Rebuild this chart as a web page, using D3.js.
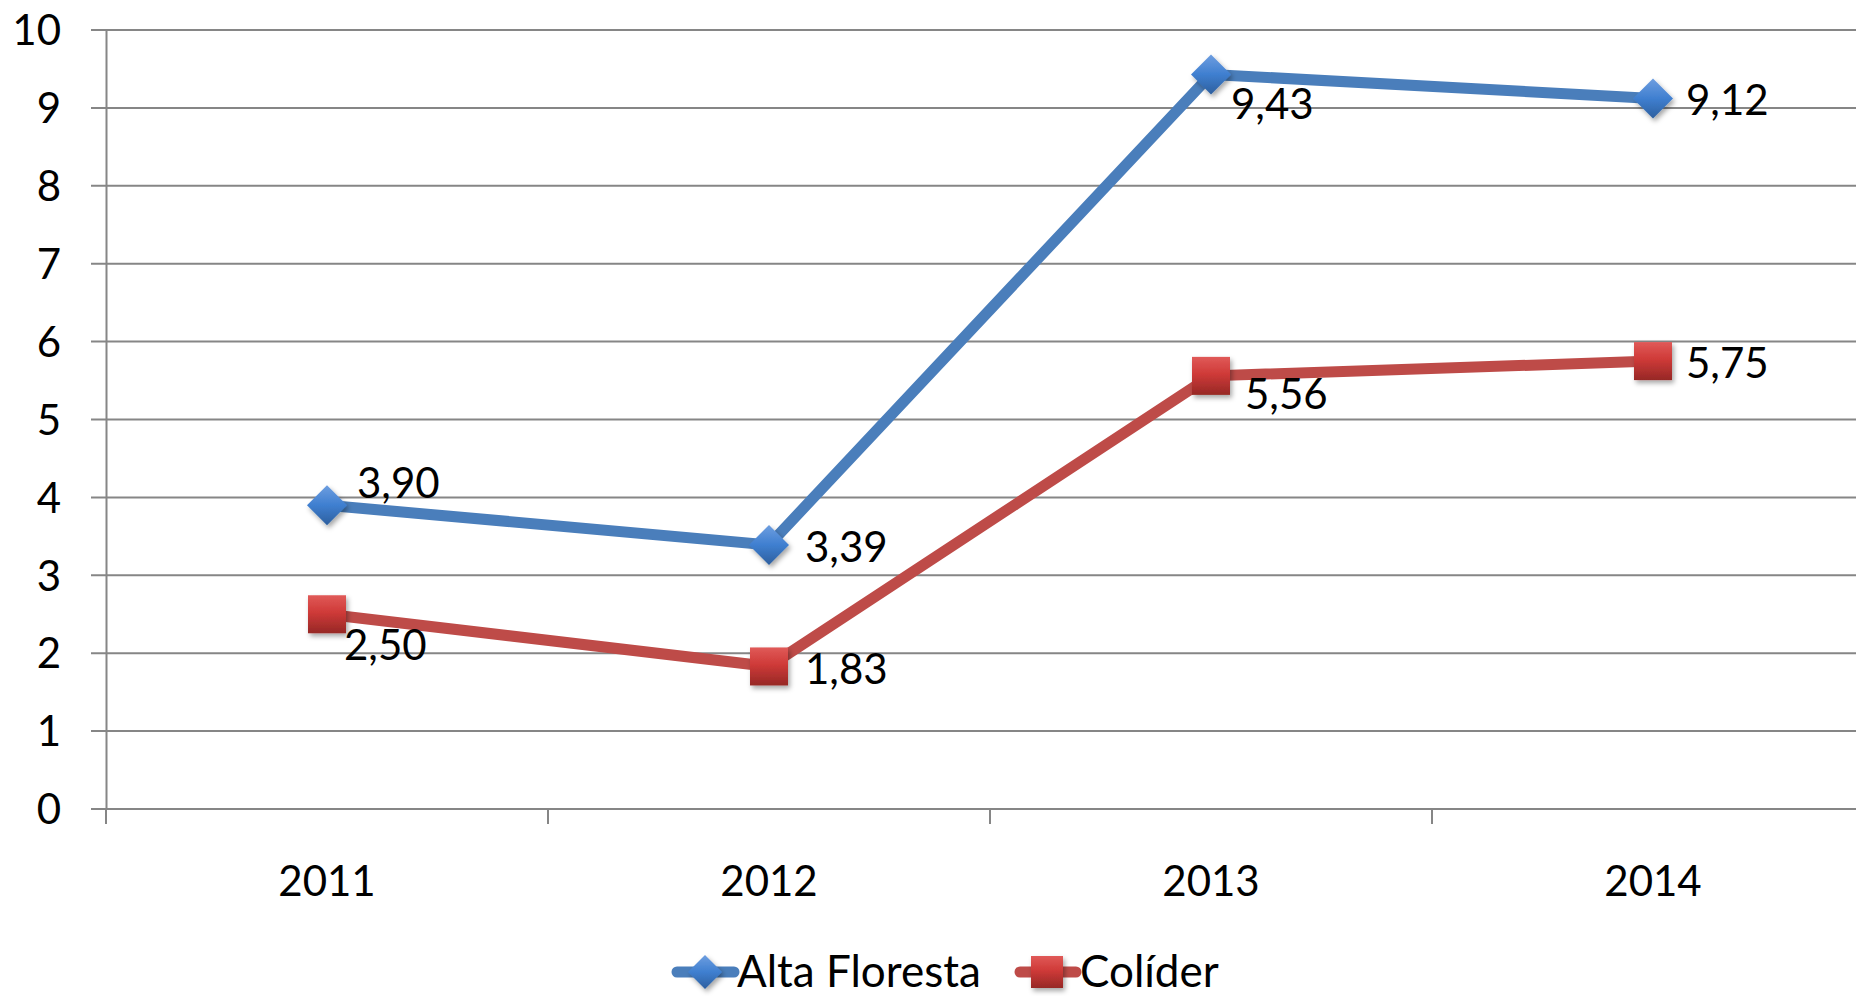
<!DOCTYPE html>
<html><head><meta charset="utf-8">
<script src="https://cdn.jsdelivr.net/npm/d3@7"></script>
<style>
html,body{margin:0;padding:0;background:#fff;}
svg{display:block;font-family:Lato,"Open Sans",sans-serif;}
</style></head>
<body>
<svg id="chart" width="1856" height="996"></svg>
<script>
const categories = ["2011", "2012", "2013", "2014"];
const altaFloresta = [3.90, 3.39, 9.43, 9.12];
const colider = [2.50, 1.83, 5.56, 5.75];
const yTicks = [0,1,2,3,4,5,6,7,8,9,10];
const seriesNames = ["Alta Floresta", "Colíder"];
// label offsets (dx, dy) from point, matching the reference placement
const labelOffAlta = [[30,-22],[36,2],[20,30],[33,2]];
const labelOffCol = [[17,31],[36,3],[34,18],[33,2]];

(function(){
const svg = d3.select("#chart");
const mLeft = 106, mTop = 30, mBottom = 809, band = 442;
const x = d3.scaleBand().domain(categories).range([mLeft, mLeft + band*categories.length]).padding(0);
const y = d3.scaleLinear().domain([0,10]).range([mBottom, mTop]);
const fmt = v => v.toFixed(2).replace(".", ",");
const FS = 42;

const defs = svg.append("defs");
const gB = defs.append("linearGradient").attr("id","gBlue").attr("x1","0").attr("y1","0").attr("x2","0").attr("y2","1");
gB.append("stop").attr("offset","0").attr("stop-color","#6e9ee0");
gB.append("stop").attr("offset","0.5").attr("stop-color","#3f7fd0");
gB.append("stop").attr("offset","1").attr("stop-color","#2d5f9e");
const gR = defs.append("linearGradient").attr("id","gRed").attr("x1","0").attr("y1","0").attr("x2","0").attr("y2","1");
gR.append("stop").attr("offset","0").attr("stop-color","#e05a58");
gR.append("stop").attr("offset","0.45").attr("stop-color","#cf3a38");
gR.append("stop").attr("offset","1").attr("stop-color","#962826");
const f = defs.append("filter").attr("id","shadow").attr("x","-50%").attr("y","-50%").attr("width","200%").attr("height","200%");
f.append("feDropShadow").attr("dx",2).attr("dy",3).attr("stdDeviation",2.5).attr("flood-color","#000").attr("flood-opacity",0.35);

svg.append("g").selectAll("line").data(yTicks).join("line")
  .attr("x1", mLeft - 15).attr("x2", 1856)
  .attr("y1", d => y(d)).attr("y2", d => y(d))
  .attr("stroke", "#868686").attr("stroke-width", 2);

const yAxis = svg.append("g").attr("transform", `translate(${mLeft},0)`)
  .call(d3.axisLeft(y).tickValues(yTicks).tickSize(0).tickPadding(45).tickFormat(d3.format("d")));
yAxis.select(".domain").attr("stroke","#868686").attr("stroke-width",2);
yAxis.selectAll("text").attr("font-size", FS).attr("fill","#000").attr("font-family","Lato").attr("dy","0.35em");

const xAxis = svg.append("g").attr("transform", `translate(0,${mBottom})`)
  .call(d3.axisBottom(x).tickSize(0).tickPadding(57));
xAxis.select(".domain").remove();
xAxis.selectAll("text").attr("font-size", FS).attr("fill","#000").attr("font-family","Lato");
const bounds = categories.map(c => x(c));
svg.append("g").selectAll("line").data(bounds).join("line")
  .attr("x1", d => d).attr("x2", d => d).attr("y1", mBottom).attr("y2", mBottom + 15)
  .attr("stroke", "#868686").attr("stroke-width", 2);

const line = d3.line().x((d,i) => x(categories[i]) + x.bandwidth()/2).y(d => y(d));

function diamond(g, cx, cy, s) {
  g.append("path").attr("d", `M${cx},${cy-s}L${cx+s},${cy}L${cx},${cy+s}L${cx-s},${cy}Z`)
    .attr("fill","url(#gBlue)").attr("filter","url(#shadow)");
}
function square(g, cx, cy, s) {
  g.append("rect").attr("x", cx-s).attr("y", cy-s).attr("width", 2*s).attr("height", 2*s)
    .attr("fill","url(#gRed)").attr("filter","url(#shadow)");
}

svg.append("path").datum(colider).attr("d", line).attr("fill","none").attr("stroke","#be4b48").attr("stroke-width",11).attr("stroke-linejoin","round");
svg.append("path").datum(altaFloresta).attr("d", line).attr("fill","none").attr("stroke","#4a7ebb").attr("stroke-width",11).attr("stroke-linejoin","round");

const mk = svg.append("g");
colider.forEach((v,i) => square(mk, x(categories[i]) + x.bandwidth()/2, y(v), 19));
altaFloresta.forEach((v,i) => diamond(mk, x(categories[i]) + x.bandwidth()/2, y(v), 20));

const lab = svg.append("g").attr("font-size", FS).attr("fill","#000").attr("font-family","Lato");
altaFloresta.forEach((v,i) => lab.append("text")
  .attr("x", x(categories[i]) + x.bandwidth()/2 + labelOffAlta[i][0])
  .attr("y", y(v) + labelOffAlta[i][1]).attr("dy","0.35em").text(fmt(v)));
colider.forEach((v,i) => lab.append("text")
  .attr("x", x(categories[i]) + x.bandwidth()/2 + labelOffCol[i][0])
  .attr("y", y(v) + labelOffCol[i][1]).attr("dy","0.35em").text(fmt(v)));

const lg = svg.append("g").attr("font-size", 44).attr("font-family","Lato");
const ly = 972;
lg.append("line").attr("x1",677).attr("x2",734).attr("y1",ly).attr("y2",ly).attr("stroke","#4a7ebb").attr("stroke-width",11).attr("stroke-linecap","round");
diamond(lg, 705, ly, 17);
lg.append("text").attr("x",737).attr("y",ly).attr("dy","0.33em").text(seriesNames[0]);
lg.append("line").attr("x1",1020).attr("x2",1076).attr("y1",ly).attr("y2",ly).attr("stroke","#be4b48").attr("stroke-width",11).attr("stroke-linecap","round");
square(lg, 1047, ly, 16);
lg.append("text").attr("x",1080).attr("y",ly).attr("dy","0.33em").text(seriesNames[1]);
})();
</script>
</body></html>
